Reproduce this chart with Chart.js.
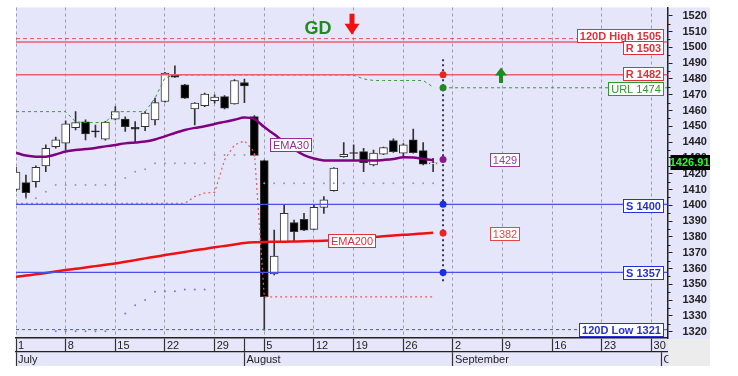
<!DOCTYPE html>
<html>
<head>
<meta charset="utf-8">
<script src="https://cdn.jsdelivr.net/npm/chart.js@4.4.1/dist/chart.umd.min.js"></script>
<style>
    html, body { margin: 0; padding: 0; background: #ffffff; }
    #wrap { width: 738px; height: 376px; }
</style>
</head>
<body>
<div id="wrap"><canvas id="priceChart" width="738" height="376"></canvas></div>
<script>
// daily candles, index 0 = 1 July (trading days)
var openVals = [1410, 1414.3, 1415, 1424.9, 1437.1, 1439.3, 1449.2, 1452.8, 1447.2, 1441.8,
    1454.5, 1454.5, 1449.4, 1449.8, 1454.1, 1465.7, 1482.6, 1476.3, 1461, 1463,
    1466.3, 1468.8, 1464.2, 1477.7, 1456.2, 1428.3, 1356.5, 1376.9, 1389, 1391.1,
    1384.8, 1398.7, 1409.3, 1430.8, 1433.4, 1434, 1425.5, 1432.3, 1441, 1433,
    1441.4, 1434.6, 1426.2];
var highVals = [1424, 1419.2, 1425, 1438.2, 1443.1, 1453.4, 1459.3, 1454.1, 1450.7, 1453.2,
    1462.5, 1456, 1453, 1459.3, 1467.8, 1484.2, 1488.3, 1476.6, 1465, 1471,
    1469.9, 1469.5, 1479.5, 1479.9, 1456.8, 1428.6, 1384.3, 1400.2, 1390.7, 1394.9,
    1400, 1405.5, 1423.8, 1439.7, 1438.2, 1436.1, 1435, 1436.8, 1442, 1439,
    1448.2, 1439.7, 1429.8];
var lowVals = [1409, 1404.6, 1411.4, 1421.3, 1436.1, 1435.1, 1447.7, 1441.4, 1443.1, 1441.2,
    1454.1, 1446.7, 1440.3, 1447.3, 1450.9, 1465.3, 1481, 1467.6, 1450.9, 1462.5,
    1464.7, 1461, 1464, 1465, 1431.2, 1321, 1356, 1376.5, 1376.9, 1384,
    1384.5, 1394.9, 1409, 1430.5, 1428.7, 1421.3, 1425, 1432, 1433.5, 1430.6,
    1433, 1425.5, 1421.3];
var closeVals = [1421, 1408, 1424.1, 1436.1, 1441.4, 1451.5, 1452.4, 1445.2, 1446.4, 1452.6,
    1459.3, 1449.8, 1448.2, 1458.3, 1465, 1483.7, 1481.1, 1467.8, 1464.7, 1470.4,
    1468.5, 1461.5, 1479, 1475.6, 1431.6, 1342.1, 1367.9, 1394.9, 1383.3, 1384.3,
    1398.7, 1403.4, 1423.5, 1432.3, 1432.8, 1427, 1433, 1436.5, 1434, 1438.2,
    1433.3, 1426, 1426.91];

var ema30 = [1433.3, 1431.5, 1430.8, 1430.8, 1432.2, 1434, 1435, 1435.6, 1436.3, 1437.3,
    1438.2, 1439.2, 1439.8, 1440.4, 1441.7, 1443.6, 1445.8, 1447.7, 1449, 1450,
    1451.5, 1452.8, 1454.1, 1455.5, 1454.5, 1449.5, 1444.9, 1440.1, 1435.5, 1431.8,
    1429.6, 1428.4, 1428.3, 1428.3, 1428.3, 1428.3, 1428.3, 1428.7, 1429.3, 1430.4,
    1430.3, 1429.3, 1428.7];
var ema200 = [1354.7, 1355.5, 1356.3, 1357.2, 1358.1, 1359, 1359.8, 1360.6, 1361.5, 1362.3,
    1363.2, 1364.2, 1365.3, 1366.4, 1367.4, 1368.5, 1369.5, 1370.5, 1371.5, 1372.4,
    1373.4, 1374.3, 1375.2, 1376.1, 1376.6, 1376.8, 1376.9, 1377, 1377.1, 1377.2,
    1377.4, 1377.6, 1377.9, 1378.4, 1378.9, 1379.4, 1379.9, 1380.4, 1380.9, 1381.3,
    1381.7, 1382.2, 1382.6];
var stopLine = [1401.3, 1401.3, 1401.3, 1401.3, 1401.3, 1401.3, 1401.3, 1401.3, 1401.3, 1401.3,
    1401.3, 1401.3, 1401.3, 1401.3, 1401.3, 1401.3, 1401.3, 1401.3, 1405.5, 1407.8,
    1408.2, 1428.7, 1438.2, 1440.8, 1433.8, 1342, 1342, 1342, 1342, 1342,
    1342, 1342, 1342, 1342, 1342, 1342, 1342, 1342, 1342, 1342,
    1342, 1342, 1342];
var urlLine = [1459.3, 1459.3, 1459.3, 1459.3, 1459.3, 1459.3, 1452.8, 1452.4, 1452.4, 1452.4,
    1459.3, 1459.3, 1459.3, 1459.3, 1467.8, 1480.7, 1482.5, 1482.5, 1482.5, 1482.5,
    1482.5, 1482.5, 1482.5, 1482.5, 1482.5, 1482.5, 1482.5, 1482.5, 1482.5, 1482.5,
    1482.5, 1482.5, 1482.5, 1482.5, 1482.3, 1480, 1479, 1479, 1479, 1479,
    1479, 1479, 1474.8];
var upperDots = [null, 1404.4, 1404.4, 1408.6, 1412.9, 1412.9, 1412.9, 1412.9, 1412.9, 1412.9,
    1412.9, 1417.3, 1421.3, 1422.8, 1426.6, 1426.6, 1426.6, 1426.6, 1426.6, 1426.6,
    1431.9, 1431.9, 1431.9, 1431.9, 1431.9, 1413.9, 1413.9, 1413.9, 1413.9, 1413.9,
    1413.9, 1413.9, 1413.9, 1413.9, 1413.9, 1413.9, 1413.9, 1413.9, 1413.9, 1413.9,
    1413.9, 1413.9, 1413.9];
var lowerDots = [null, null, null, null, 1320.2, 1320.2, 1320.2, 1320.2, 1320.2, 1320.2,
    null, 1331.5, 1336.8, 1340, 1345.2, 1345.6, 1345.6, 1346.7, 1346.7, 1346.7];

// projection column
var projIdx = 43;
var projVals = [1482.6, 1474.4, 1429, 1400.6, 1382.4, 1357.5];
var projSpan = [1492.4, 1350.2];

// horizontal levels
var levelText = ['120D High 1505', 'R 1503', 'R 1482', 'URL 1474', 'S 1400', 'S 1357', '120D Low 1321'];
var levelVals = [1505.5, 1503.4, 1482.6, 1474.4, 1400.6, 1357.5, 1321.3];
var levelStart = [0, 0, 0, 43, 0, 0, 0];
var lastPrice = 1426.91;

// axes
var yTicks = [1320, 1330, 1340, 1350, 1360, 1370, 1380, 1390, 1400, 1410, 1420,
    1430, 1440, 1450, 1460, 1470, 1480, 1490, 1500, 1510, 1520];
var dayTickIdx = [0, 5, 10, 15, 20, 23, 25, 30, 34, 39, 44, 49, 54, 59, 64];
var dayTickText = ['1', '8', '15', '22', '29', '', '5', '12', '19', '26', '2', '9', '16', '23', '30'];
var monthTickIdx = [0, 23, 44, 65];
var monthTickText = ['July', 'August', 'September', 'October'];

var X_MIN = 0, X_MAX = 65.6;
var FONT = '"Liberation Sans", Arial, sans-serif';

function pts(arr) {
    return arr.map(function (v, i) { return { x: i, y: v }; });
}

function tagBox(ctx, text, x, y, color, bold, anchor) {
    ctx.font = (bold ? 'bold ' : '') + '11px ' + FONT;
    var w = Math.round(ctx.measureText(text).width + 5);
    var h = 13;
    var left = Math.round(anchor === 'right' ? x - w : x - w / 2);
    var top = Math.round(y - h / 2);
    ctx.fillStyle = '#ffffff';
    ctx.fillRect(left, top, w, h);
    ctx.strokeStyle = color;
    ctx.lineWidth = 1;
    ctx.strokeRect(left + 0.5, top + 0.5, w, h);
    ctx.fillStyle = color;
    ctx.textAlign = 'center';
    ctx.textBaseline = 'middle';
    ctx.fillText(text, left + w / 2 + 0.5, top + h / 2 + 1);
}

// axis boxes keep exactly their fitted size (no extra label padding)
function noPad(s) {
    s.paddingTop = 0; s.paddingBottom = 0; s.paddingLeft = 0; s.paddingRight = 0;
}

var levelColor = ['#e0303c', '#e0303c', '#e0303c', '#2a9a2a', '#2530d8', '#2530d8', '#2530d8'];
var levelBold = [true, true, true, false, true, true, true];
var levelDy = [-3.5, 6, -1, 0.5, 1.5, 0.5, 0];

var annotate = {
    id: 'annotate',
    beforeDraw: function (chart) {
        var ctx = chart.ctx, a = chart.chartArea;
        var ys = chart.scales.y, x2 = chart.scales.x2;
        ctx.save();
        ctx.fillStyle = '#e6e6fa';
        ctx.fillRect(a.left, a.top, ys.right - a.left, x2.bottom - a.top);
        ctx.restore();
    },
    afterDatasetsDraw: function (chart) {
        var ctx = chart.ctx, a = chart.chartArea;
        var xs = chart.scales.x, ys = chart.scales.y;
        ctx.save();

        levelText.forEach(function (t, i) {
            tagBox(ctx, t, a.right - 5, ys.getPixelForValue(levelVals[i]) + levelDy[i], levelColor[i], levelBold[i], 'right');
        });

        tagBox(ctx, 'EMA30', xs.getPixelForValue(27.6), ys.getPixelForValue(1438.5), '#9a2a9a', false, 'center');
        tagBox(ctx, 'EMA200', xs.getPixelForValue(33.8), ys.getPixelForValue(1377.7), '#e0303c', false, 'center');
        tagBox(ctx, String(Math.round(projVals[2])), xs.getPixelForValue(49.2), ys.getPixelForValue(projVals[2]), '#9a3a9a', false, 'center');
        tagBox(ctx, String(Math.round(projVals[4])), xs.getPixelForValue(49.2), ys.getPixelForValue(projVals[4]), '#e04848', false, 'center');

        // GD signal
        ctx.font = 'bold 18px ' + FONT;
        ctx.fillStyle = '#1f8a1f';
        ctx.textAlign = 'center';
        ctx.textBaseline = 'middle';
        ctx.fillText('GD', xs.getPixelForValue(30.4), ys.getPixelForValue(1512.4) + 1);

        // red down arrow
        var ax = Math.round(xs.getPixelForValue(33.8)), ay = ys.getPixelForValue(1508);
        ctx.fillStyle = '#ee1111';
        ctx.beginPath();
        ctx.moveTo(ax - 2.5, ay - 21);
        ctx.lineTo(ax + 2.5, ay - 21);
        ctx.lineTo(ax + 2.5, ay - 11);
        ctx.lineTo(ax + 7.5, ay - 11);
        ctx.lineTo(ax, ay);
        ctx.lineTo(ax - 7.5, ay - 11);
        ctx.lineTo(ax - 2.5, ay - 11);
        ctx.closePath();
        ctx.fill();

        // green up arrow
        var bx = Math.round(xs.getPixelForValue(48.8)), by = ys.getPixelForValue(1487.3);
        ctx.fillStyle = '#1f8a1f';
        ctx.beginPath();
        ctx.moveTo(bx, by);
        ctx.lineTo(bx + 6, by + 8);
        ctx.lineTo(bx + 2, by + 8);
        ctx.lineTo(bx + 2, by + 15.5);
        ctx.lineTo(bx - 2, by + 15.5);
        ctx.lineTo(bx - 2, by + 8);
        ctx.lineTo(bx - 6, by + 8);
        ctx.closePath();
        ctx.fill();

        ctx.restore();
    },
    afterDraw: function (chart) {
        var ctx = chart.ctx, a = chart.chartArea;
        var ys = chart.scales.y, x2 = chart.scales.x2;
        ctx.save();
        // grey corner under the price axis
        ctx.fillStyle = '#ececec';
        ctx.fillRect(ys.left + 1, a.bottom + 1, ys.right - ys.left - 1, x2.bottom - a.bottom - 1);

        // half-step ticks on the price axis
        ctx.strokeStyle = '#222222';
        ctx.lineWidth = 1;
        for (var i = 0; i < yTicks.length - 1; i++) {
            var py = Math.round(ys.getPixelForValue(yTicks[i] + 5)) + 0.5;
            ctx.beginPath();
            ctx.moveTo(ys.left, py);
            ctx.lineTo(ys.left + 3, py);
            ctx.stroke();
        }

        // last price marker
        var lp = ys.getPixelForValue(lastPrice);
        ctx.fillStyle = '#000000';
        ctx.fillRect(ys.left + 3, Math.round(lp - 8), ys.right - ys.left - 3, 15);
        ctx.font = 'bold 11px ' + FONT;
        ctx.fillStyle = '#22ff22';
        ctx.textAlign = 'right';
        ctx.textBaseline = 'middle';
        ctx.fillText(lastPrice.toFixed(2), ys.right - 0.5, lp);
        ctx.restore();
    }
};

var datasets = [];

// projection dots
datasets.push({
    type: 'line', order: 0, clip: 0,
    data: projVals.map(function (v) { return { x: projIdx, y: v }; }),
    showLine: false, pointRadius: 3.5, pointBorderWidth: 0,
    pointBackgroundColor: ['#ee2222', '#1f8a1f', '#8a1a8a', '#1a30e0', '#ee2222', '#1a30e0']
});
// projection vertical
datasets.push({
    type: 'line', order: 1, clip: 0,
    data: projSpan.map(function (v) { return { x: projIdx, y: v }; }),
    borderColor: '#333355', borderWidth: 2, borderDash: [2, 3], pointRadius: 0
});
// horizontal levels
var levelLine = [
    { c: '#e8505e', w: 1, d: [4, 3] },
    { c: '#e8606e', w: 1.6, d: [] },
    { c: '#e8606e', w: 1.6, d: [] },
    { c: '#3a9a3a', w: 1, d: [3, 3] },
    { c: '#4a52e8', w: 1.2, d: [] },
    { c: '#4a52e8', w: 1.2, d: [] },
    { c: '#4a52e8', w: 1, d: [3, 3] }
];
levelVals.forEach(function (v, i) {
    datasets.push({
        type: 'line', order: 2, clip: 0,
        data: [{ x: levelStart[i], y: v }, { x: X_MAX, y: v }],
        borderColor: levelLine[i].c, borderWidth: levelLine[i].w, borderDash: levelLine[i].d,
        pointRadius: 0
    });
});
datasets.push({
    type: 'line', order: 3, clip: 0, data: pts(ema30),
    borderColor: '#800080', borderWidth: 2.5, pointRadius: 0, cubicInterpolationMode: 'monotone'
});
datasets.push({
    type: 'line', order: 4, clip: 0, data: pts(ema200),
    borderColor: '#ee1111', borderWidth: 2.5, pointRadius: 0, cubicInterpolationMode: 'monotone'
});
datasets.push({
    type: 'line', order: 5, clip: 0, data: pts(stopLine),
    borderColor: '#ee5a5a', borderWidth: 1.2, borderDash: [2, 3], pointRadius: 0
});
datasets.push({
    type: 'line', order: 6, clip: 0, data: pts(urlLine),
    borderColor: '#3a9a3a', borderWidth: 1, borderDash: [3, 3], pointRadius: 0
});
datasets.push({
    type: 'line', order: 7, clip: 0, data: pts(upperDots),
    showLine: false, pointRadius: 1, pointBorderWidth: 0, pointBackgroundColor: '#9a9aa8'
});
datasets.push({
    type: 'line', order: 7, clip: 0, data: pts(lowerDots),
    showLine: false, pointRadius: 1, pointBorderWidth: 0, pointBackgroundColor: '#7080c8'
});
// candle bodies
datasets.push({
    type: 'bar', order: 8, clip: 0, grouped: false,
    data: openVals.map(function (o, i) { return { x: i, y: [o, closeVals[i]] }; }),
    backgroundColor: openVals.map(function (o, i) { return closeVals[i] >= o ? '#ffffff' : '#000000'; }),
    borderColor: '#333333', borderWidth: 1, borderSkipped: false, barThickness: 8
});
// wicks
datasets.push({
    type: 'bar', order: 9, clip: 0, grouped: false,
    data: lowVals.map(function (l, i) { return { x: i, y: [l, highVals[i]] }; }),
    backgroundColor: '#333333', borderWidth: 0, barThickness: 1
});

var ctx = document.getElementById('priceChart').getContext('2d');
var priceChart = new Chart(ctx, {
    type: 'line',
    data: { datasets: datasets },
    options: {
        responsive: false,
        animation: false,
        events: [],
        devicePixelRatio: 1,
        layout: { padding: { left: 16, top: 7.5, right: 28, bottom: 10 } },
        plugins: { legend: { display: false }, tooltip: { enabled: false } },
        scales: {
            x: {
                type: 'linear', position: 'bottom', weight: 0, bounds: 'data',
                min: X_MIN, max: X_MAX, offset: false,
                afterBuildTicks: function (s) { s.ticks = dayTickIdx.map(function (v) { return { value: v }; }); },
                afterFit: function (s) { s.height = 14; noPad(s); },
                ticks: {
                    autoSkip: false, maxRotation: 0, minRotation: 0, align: 'start',
                    padding: -12.5, labelOffset: 2, color: '#222222',
                    font: { size: 11, family: FONT },
                    callback: function (v) { var k = dayTickIdx.indexOf(v); return k < 0 ? '' : dayTickText[k]; }
                },
                grid: {
                    offset: false,
                    color: function (c) {
                        var k = c.tick ? dayTickIdx.indexOf(c.tick.value) : -1;
                        return k >= 0 && dayTickText[k] === '' ? 'rgba(0,0,0,0)' : '#9c9cae';
                    },
                    lineWidth: 1, tickColor: '#333333', tickLength: 14, tickWidth: 1.2
                },
                border: { display: true, color: '#222222', width: 1.5, dash: [3, 3] }
            },
            x2: {
                type: 'linear', position: 'bottom', weight: 1, bounds: 'data',
                min: X_MIN, max: X_MAX, offset: false,
                afterBuildTicks: function (s) { s.ticks = monthTickIdx.map(function (v) { return { value: v }; }); },
                afterFit: function (s) { s.height = 14; noPad(s); },
                ticks: {
                    autoSkip: false, maxRotation: 0, minRotation: 0, align: 'start',
                    padding: -12.5, labelOffset: 2, color: '#222222',
                    font: { size: 11, family: FONT },
                    callback: function (v) { var k = monthTickIdx.indexOf(v); return k < 0 ? '' : monthTickText[k]; }
                },
                grid: { offset: false, drawOnChartArea: false, tickColor: '#333333', tickLength: 14, tickWidth: 1.2 },
                border: { display: true, color: '#222222', width: 1.2 }
            },
            y: {
                type: 'linear', position: 'right', bounds: 'data',
                min: 1316, max: 1525.2,
                afterBuildTicks: function (s) { s.ticks = yTicks.map(function (v) { return { value: v }; }); },
                afterFit: function (s) { s.width = 42.5; noPad(s); },
                ticks: {
                    autoSkip: false, padding: 10, color: '#222222',
                    font: { size: 11, weight: 'bold', family: FONT },
                    callback: function (v) { return String(v); }
                },
                grid: { drawOnChartArea: false, tickColor: '#222222', tickLength: 5 },
                border: { display: true, color: '#222222', width: 1.5 }
            }
        }
    },
    plugins: [annotate]
});
</script>
</body>
</html>
